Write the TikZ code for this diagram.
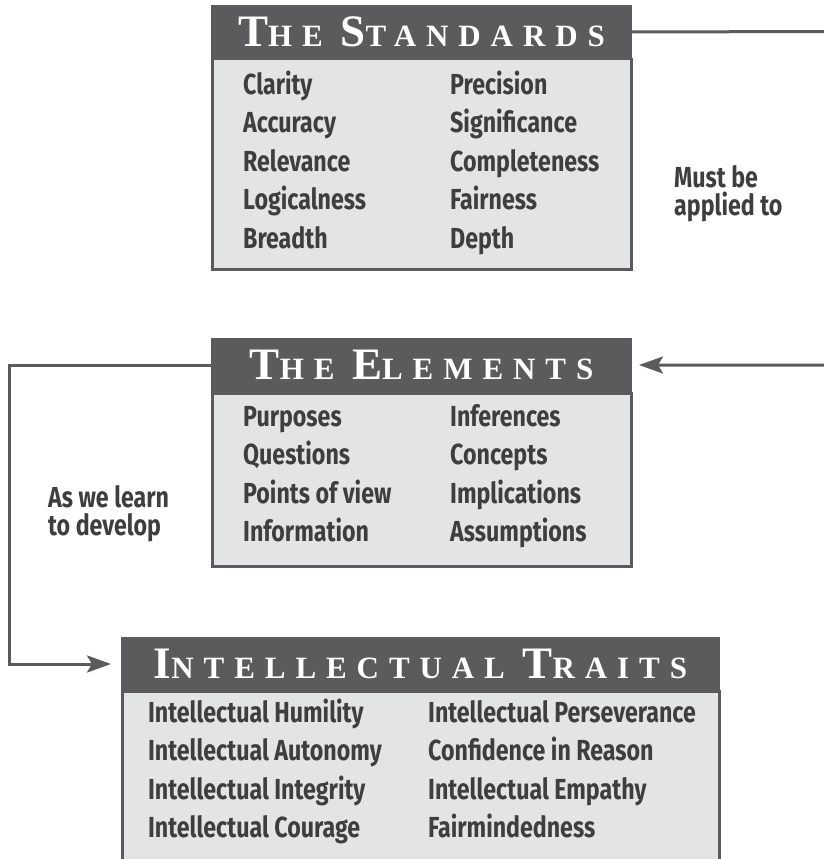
\documentclass[tikz,border=0pt]{standalone}
\usepackage{fontspec}
\usetikzlibrary{arrows.meta}
\newfontfamily\bodyfont{Fira Sans}[FakeStretch=0.8]
\newfontfamily\hf{Liberation Serif}[LetterSpace=32]
\definecolor{hdr}{HTML}{5B5B5D}
\definecolor{bdy}{HTML}{E3E4E6}
\definecolor{txt}{HTML}{3E3E40}
\newcommand\hbig[1]{{\fontsize{45}{45}\selectfont #1}}
\newcommand\hsmall[1]{{\fontsize{31}{31}\selectfont #1}}
\tikzset{
 headbox/.style={fill=hdr, draw=hdr, line width=1pt, minimum height=53pt, inner sep=0pt, anchor=north west, text=white, font=\hf\bfseries\fontsize{31}{31}\selectfont},
 bodybox/.style={fill=bdy, draw=hdr, line width=2.5pt, inner sep=0pt, anchor=north west},
 item/.style={anchor=base west, inner sep=0pt, text=txt, font=\bodyfont\bfseries\fontsize{29}{29}\selectfont},
 lbl/.style={anchor=base west, inner sep=0pt, text=txt, font=\bodyfont\bfseries\fontsize{29}{29}\selectfont},
 conn/.style={draw=hdr, line width=3pt},
 tip/.style={-{Stealth[length=24pt,width=17pt,inset=5pt]}}
}
\begin{document}
\begin{tikzpicture}[x=1pt,y=-1pt]
\useasboundingbox (0,0) rectangle (824,859);
% bodies
\node[bodybox, minimum width=419pt, minimum height=210pt] (sb) at (211,58) {};
\node[bodybox, minimum width=419pt, minimum height=173pt] (eb) at (211,392) {};
\node[bodybox, minimum width=597pt, minimum height=200pt] (tb) at (121,690) {};
% headers
\node[headbox, minimum width=420pt] (sh) at (211,5) {\hbig{T}\hsmall{HE} \hbig{S}\hsmall{TANDARDS}};
\node[headbox, minimum width=420pt] (eh) at (211,338) {\hbig{T}\hsmall{HE} \hbig{E}\hsmall{LEMENTS}};
\node[headbox, minimum width=598pt] (th) at (121,637) {\hbig{I}\hsmall{NTELLECTUAL} \hbig{T}\hsmall{RAITS}};
% standards items
\foreach \a/\b/\y [count=\i] in {Clarity/Precision/94, Accuracy/Significance/132.5, Relevance/Completeness/171, Logicalness/Fairness/209.5, Breadth/Depth/248}{
  \node[item] (sa\i) at (243,\y) {\a};
  \node[item] (sc\i) at (450,\y) {\b};
}
\foreach \a/\b/\y [count=\i] in {Purposes/Inferences/426, Questions/Concepts/464.5, Points of view/Implications/503, Information/Assumptions/541.5}{
  \node[item] (ea\i) at (243,\y) {\a};
  \node[item] (ec\i) at (450,\y) {\b};
}
\foreach \a/\b/\y [count=\i] in {Intellectual Humility/Intellectual Perseverance/722, Intellectual Autonomy/Confidence in Reason/760.5, Intellectual Integrity/Intellectual Empathy/799, Intellectual Courage/Fairmindedness/837.5}{
  \node[item] (ta\i) at (148,\y) {\a};
  \node[item] (tc\i) at (428,\y) {\b};
}
% labels
\node[lbl] (m1) at (674,187) {Must be};
\node[lbl] (m2) at (674,215) {applied to};
\node[lbl] (a1) at (48,507) {As we learn};
\node[lbl] (a2) at (48,535) {to develop};
% connectors
\coordinate (rc) at (826,31.5);
\coordinate (lc) at (9,365);
\draw[conn, tip, shorten >=7pt] (sh.east) -- (rc) |- (eh.east);
\draw[conn, tip, shorten >=10pt] (eh.west) -- (lc) |- (th.west);
\end{tikzpicture}
\end{document}
